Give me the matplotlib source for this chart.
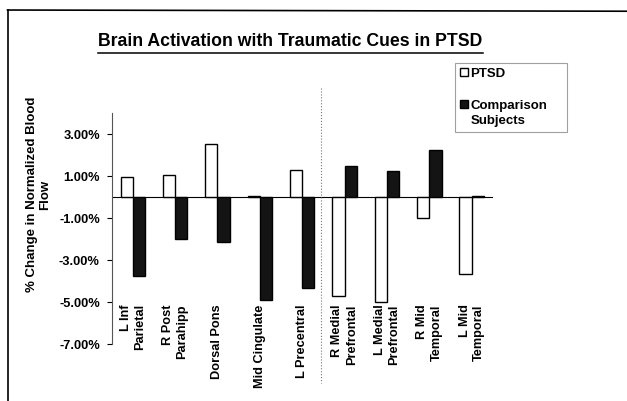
import numpy as np
import matplotlib
matplotlib.use("Agg")
import matplotlib.pyplot as plt
from matplotlib.patches import Patch
from matplotlib.lines import Line2D
from matplotlib.ticker import FuncFormatter

plt.rcParams['font.family'] = ['Liberation Sans', 'DejaVu Sans']
plt.rcParams['font.weight'] = 'bold'

# data (% change in normalized blood flow)
regions = ['L Inf\nParietal', 'R Post\nParahipp', 'Dorsal Pons', 'Mid Cingulate',
           'L Precentral', 'R Medial\nPrefrontal', 'L Medial\nPrefrontal',
           'R Mid\nTemporal', 'L Mid\nTemporal']
ptsd = [0.95, 1.03, 2.52, 0.07, 1.27, -4.71, -5.02, -0.99, -3.64]
comparison = [-3.78, -2.00, -2.13, -4.92, -4.33, 1.46, 1.25, 2.25, 0.06]
yticks = [-7, -5, -3, -1, 1, 3]
divider_x = 4.44

fig = plt.figure(figsize=(6.27, 4.01), dpi=100)
ax = fig.add_axes([0.178, 0.142, 0.608, 0.576])

x = np.arange(len(regions))
w = 0.29
ax.bar(x - w/2, ptsd, w, color='white', edgecolor='black', linewidth=1.0)
ax.bar(x + w/2, comparison, w, color='#141414', edgecolor='black', linewidth=1.0)

ax.set_xlim(-0.5, len(regions) - 0.5)
ax.set_ylim(-7, 4)
ax.axhline(0, color='black', linewidth=0.8, zorder=0)

ax.set_yticks(yticks)
ax.yaxis.set_major_formatter(FuncFormatter(lambda v, p: '%.2f%%' % v))
ax.tick_params(axis='y', direction='out', length=3.5, width=0.8, pad=5, labelsize=9.3)
ax.set_xticks([])
for s in ['top', 'right', 'bottom']:
    ax.spines[s].set_visible(False)
ax.spines['left'].set_color('#555555')
ax.spines['left'].set_linewidth(0.8)

# category labels sit low, near -5%
for i, r in enumerate(regions):
    ax.text(i, -5.1, r, rotation=90, ha='center', va='top', multialignment='right',
            fontsize=9.2, fontweight='bold', linespacing=1.25)

# dotted divider between the two groups of regions
ax.plot([divider_x, divider_x], [5.2, -8.85], color='#777777', linestyle=':',
        linewidth=0.8, clip_on=False)

fig.text(0.062, 0.515, '% Change in Normalized Blood\nFlow', rotation=90,
         ha='center', va='center', multialignment='center', fontsize=9.5,
         fontweight='bold', linespacing=1.15)

fig.text(0.463, 0.897, 'Brain Activation with Traumatic Cues in PTSD', ha='center',
         va='center', fontsize=12.7, fontweight='bold')
fig.add_artist(Line2D([0.156, 0.771], [0.869, 0.869], color='black', linewidth=1.1,
                      transform=fig.transFigure))

# legend: blank row between entries, second label split over two rows
blank = Patch(facecolor='none', edgecolor='none')
handles = [Patch(facecolor='white', edgecolor='black'), blank,
           Patch(facecolor='#141414', edgecolor='black'), blank]
labels = ['PTSD', ' ', 'Comparison', 'Subjects']
leg = fig.legend(handles, labels, loc='upper left',
                 bbox_to_anchor=(455/627, 1 - 129/401, 112/627, 66/401), mode='expand',
                 frameon=True, fancybox=False, edgecolor='#888888', fontsize=9.5,
                 handlelength=0.6, handleheight=0.6, handletextpad=0.2,
                 labelspacing=0.3, borderaxespad=0, borderpad=0.35)
leg.get_frame().set_linewidth(0.8)
for t in leg.get_texts():
    t.set_fontweight('bold')

# outer frame of the scanned figure (left and top edges)
fig.add_artist(Line2D([0.012, 0.012], [0.0, 0.975], color='black', linewidth=1.2,
                      transform=fig.transFigure))
fig.add_artist(Line2D([0.012, 1.0], [0.975, 0.972], color='black', linewidth=1.2,
                      transform=fig.transFigure))

fig.savefig('out.png', dpi=100)
